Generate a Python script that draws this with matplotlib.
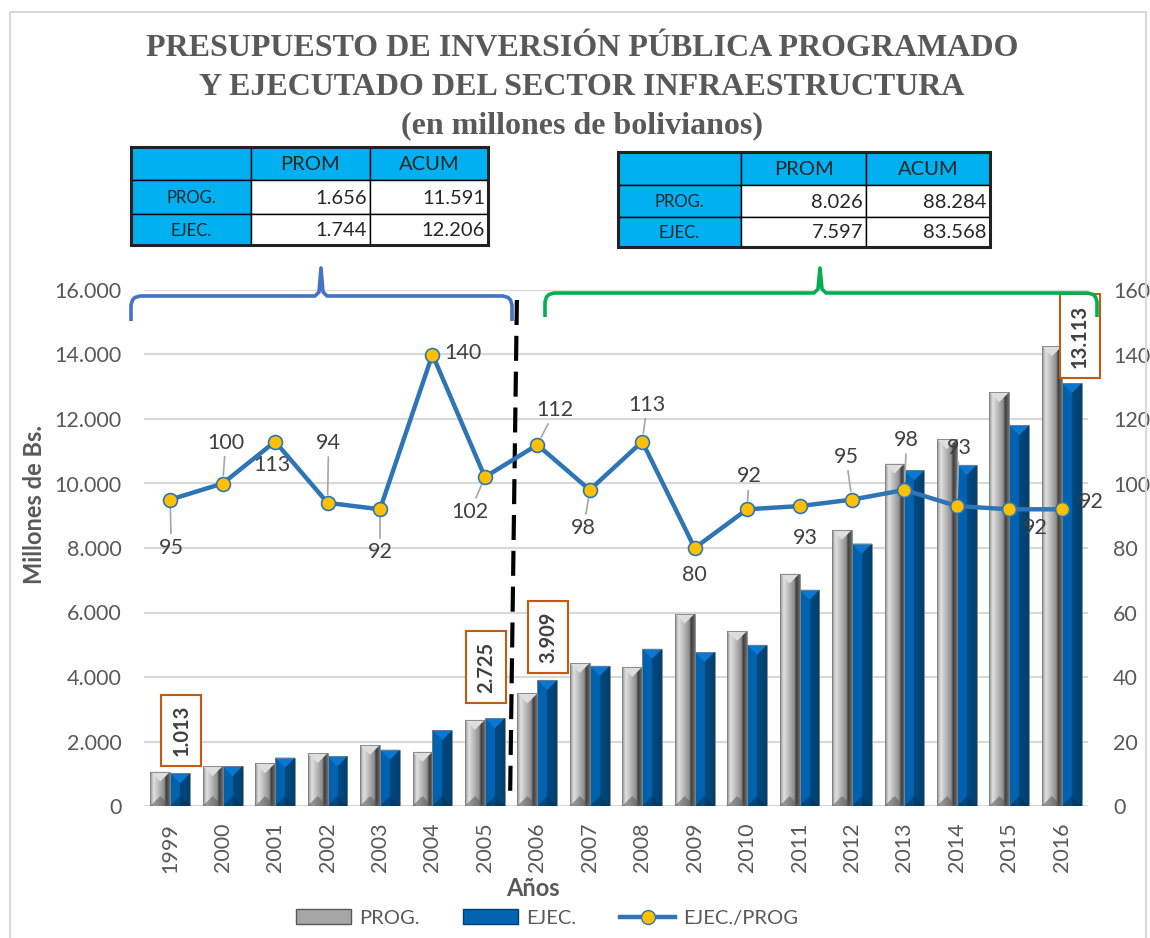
import numpy as np
import matplotlib
matplotlib.use('Agg')
import matplotlib.pyplot as plt
from matplotlib.patches import Rectangle, Polygon, Patch
from matplotlib.lines import Line2D
from matplotlib.colors import LinearSegmentedColormap
from matplotlib.ticker import FuncFormatter, MultipleLocator

plt.rcParams['font.family'] = ['Lato', 'DejaVu Sans']

W, H = 1150, 938
GREY_TXT = '#595959'

# data
years = [str(y) for y in range(1999, 2017)]
prog = [1066, 1235, 1327, 1638, 1897, 1682, 2672, 3490, 4435, 4313,
        5966, 5430, 7209, 8565, 10619, 11373, 12837, 14253]
ejec = [1013, 1235, 1500, 1540, 1745, 2355, 2725, 3909, 4346, 4874,
        4773, 4996, 6704, 8137, 10407, 10577, 11810, 13113]
ratio = [95, 100, 113, 94, 92, 140, 102, 112, 98, 113,
         80, 92, 93, 95, 98, 93, 92, 92]

# label offsets (pixels) for the ratio line, and which get a leader line
ratio_off = [(1, -48), (3, 41), (-3, -23), (1, 60), (0, -43), (30, 2), (-15, -35),
             (18, 35), (-6, -38), (5, 37), (0, -27), (2, 33), (6, -32), (-6, 43),
             (2, 50), (2, 58), (26, -19), (30, 7)]
ratio_leader = [1, 1, 0, 1, 1, 0, 1, 1, 1, 1, 0, 1, 0, 1, 1, 1, 0, 0]

# boxed value labels on EJEC bars: (index, offset)
boxed = [(0, (1, 43)), (6, (-9, 51)), (7, (1, 43)), (17, (8, 47))]

tbl_cols = ['PROM', 'ACUM']
tbl_rows = ['PROG.', 'EJEC.']
tbl_left = [['1.656', '11.591'], ['1.744', '12.206']]
tbl_right = [['8.026', '88.284'], ['7.597', '83.568']]


def fmt(v, pos=None):
    return f'{int(v):,}'.replace(',', '.')


fig = plt.figure(figsize=(W / 100, H / 100), dpi=100)
ax_l, ax_r, ax_t, ax_b = 144, 1088, 290, 806
ax = fig.add_axes([ax_l / W, 1 - ax_b / H, (ax_r - ax_l) / W, (ax_b - ax_t) / H])
ax2 = ax.twinx()

n = len(years)
x = np.arange(n)
bw = 0.38
ymax = 16000

# pixel scale to keep the bevel triangles square-ish
px_per_x = (ax_r - ax_l) / n
px_per_y = (ax_b - ax_t) / ymax
tri_h = 0.5 * bw * px_per_x / px_per_y

prog_cmap = LinearSegmentedColormap.from_list('prog', [
    (0, '#8c8c8c'), (0.18, '#e2e2e2'), (0.45, '#b8b8b8'), (0.72, '#8e8e8e'),
    (0.82, '#3c3c3c'), (1, '#6e6e6e')])
ejec_cmap = LinearSegmentedColormap.from_list('ejec', [
    (0, '#0062ad'), (0.48, '#0064b0'), (0.52, '#00487f'), (1, '#00416f')])
grad = np.linspace(0, 1, 64).reshape(1, -1)


def bevel_bars(xs, hs, cmap, top_col, bot_col):
    bars = ax.bar(xs, hs, bw, color='none', edgecolor='none', zorder=3)
    for rect in bars:
        x0 = rect.get_x()
        x1 = x0 + rect.get_width()
        h = rect.get_height()
        im = ax.imshow(grad, extent=(x0, x1, 0, h), aspect='auto', cmap=cmap,
                       interpolation='bilinear', zorder=3)
        im.set_clip_path(rect)
        xc = (x0 + x1) / 2
        ax.add_patch(Polygon([(x0, h), (x1, h), (xc, h - tri_h)], closed=True,
                             facecolor=top_col, edgecolor='none', zorder=4))
        ax.add_patch(Polygon([(x0, 0), (x1, 0), (xc, tri_h)], closed=True,
                             facecolor=bot_col, edgecolor='none', alpha=0.55, zorder=4))
        ax.add_patch(Rectangle((x0, 0), x1 - x0, h, facecolor='none',
                               edgecolor='#7f7f7f', lw=0.6, zorder=4))
    return bars


bevel_bars(x - bw / 2, prog, prog_cmap, '#dedede', '#5a5a5a')
bevel_bars(x + bw / 2, ejec, ejec_cmap, '#0a78d2', '#00325a')

ax.set_xlim(-0.5, n - 0.5)
ax.set_ylim(0, ymax)
ax.yaxis.set_major_locator(MultipleLocator(2000))
ax.yaxis.set_major_formatter(FuncFormatter(fmt))
ax.grid(axis='y', color='#d9d9d9', lw=1.6, zorder=0)
ax.set_axisbelow(True)
ax.set_xticks(x)
ax.set_xticklabels(years, rotation=90)
ax.tick_params(axis='x', length=0, pad=12, labelsize=15.5, labelcolor=GREY_TXT)
ax.tick_params(axis='y', length=0, pad=16, labelsize=15.5, labelcolor=GREY_TXT)
for s in ax.spines.values():
    s.set_visible(False)

# boxed value labels
for i, off in boxed:
    ax.annotate(fmt(ejec[i]), (x[i] + bw / 2, ejec[i]), xytext=off,
                textcoords='offset pixels', rotation=90, ha='center', va='center',
                fontsize=14.5, fontweight='bold', color='#404040', zorder=6,
                bbox=dict(boxstyle='square,pad=0.5', facecolor='white',
                          edgecolor='#c55a11', lw=1.5))

# ratio line
ax2.plot(x, ratio, color='#2e75b6', lw=3.2, marker='o', markersize=10,
         markerfacecolor='#ffc000', markeredgecolor='#2e75b6', markeredgewidth=1.2,
         zorder=5)
ax2.set_ylim(0, 160)
ax2.yaxis.set_major_locator(MultipleLocator(20))
ax2.tick_params(axis='y', length=0, pad=18, labelsize=15.5, labelcolor=GREY_TXT)
for s in ax2.spines.values():
    s.set_visible(False)

for i, v in enumerate(ratio):
    kw = {}
    if ratio_leader[i]:
        kw['arrowprops'] = dict(arrowstyle='-', color='#a6a6a6', lw=1.2,
                                shrinkA=1, shrinkB=6)
    ax2.annotate(str(v), (x[i], v), xytext=ratio_off[i], textcoords='offset pixels',
                 ha='center', va='center', fontsize=15.5, color='#404040', **kw)

# dashed separator between 2005 and 2006
ax.plot([6.61, 6.48], [15690, 190], color='black', lw=3, ls=(0, (6, 2.6)),
        clip_on=False, zorder=6)

# axis titles
fig.text(35 / W, 1 - 505 / H, 'Millones de Bs.', rotation=90, ha='center', va='center',
         fontsize=17, fontweight='bold', color=GREY_TXT)
fig.text(533 / W, 1 - 888 / H, 'Años', ha='center', va='center',
         fontsize=17, fontweight='bold', color=GREY_TXT)

# title
for txt, yy in [('PRESUPUESTO DE INVERSIÓN PÚBLICA PROGRAMADO', 48),
                ('Y EJECUTADO DEL SECTOR INFRAESTRUCTURA', 87),
                ('(en millones de bolivianos)', 126)]:
    fig.text(582 / W, 1 - yy / H, txt, ha='center', va='center', fontsize=23,
             fontweight='bold', family='Liberation Serif', color=GREY_TXT)

# overlay in pixel coordinates for tables, braces and frame
ov = fig.add_axes([0, 0, 1, 1], zorder=10)
ov.set_xlim(0, W)
ov.set_ylim(H, 0)
ov.axis('off')
ov.patch.set_alpha(0)
ov.add_patch(Rectangle((10, 12), W - 14, H - 8, facecolor='none',
                       edgecolor='#d9d9d9', lw=1.5))


def draw_table(xe, ye, data):
    cyan = '#00b0f0'
    for r in range(3):
        for c in range(3):
            fc = cyan if (r == 0 or c == 0) else 'white'
            ov.add_patch(Rectangle((xe[c], ye[r]), xe[c + 1] - xe[c], ye[r + 1] - ye[r],
                                   facecolor=fc, edgecolor='black', lw=1))
    ov.add_patch(Rectangle((xe[0], ye[0]), xe[-1] - xe[0], ye[-1] - ye[0],
                           facecolor='none', edgecolor='#222222', lw=2.2))
    for c, name in enumerate(tbl_cols):
        ov.text((xe[c + 1] + xe[c + 2]) / 2, (ye[0] + ye[1]) / 2 + 1, name,
                ha='center', va='center', fontsize=14.5, color='#262626')
    for r, name in enumerate(tbl_rows):
        yc = (ye[r + 1] + ye[r + 2]) / 2 + 1
        ov.text((xe[0] + xe[1]) / 2, yc, name, ha='center', va='center',
                fontsize=12, color='#262626')
        for c in range(2):
            ov.text(xe[c + 2] - 3, yc, data[r][c], ha='right', va='center',
                    fontsize=14.5, color='#262626')


draw_table([131, 251, 370, 488], [147, 180, 214, 245], tbl_left)
draw_table([618, 741, 866, 990], [152, 185, 217, 247], tbl_right)


def brace(x0, x1, xm, y_bar, y_end, y_tip, color):
    r = 9
    xs = [x0, x0, x0 + 1.5, x0 + 4, x0 + r, xm - 6, xm - 2, xm, xm + 2, xm + 6,
          x1 - r, x1 - 4, x1 - 1.5, x1, x1]
    ys = [y_end, y_bar + r, y_bar + 4, y_bar + 1.5, y_bar, y_bar, y_bar - 4, y_tip,
          y_bar - 4, y_bar, y_bar, y_bar + 1.5, y_bar + 4, y_bar + r, y_end]
    ov.plot(xs, ys, color=color, lw=2.6, solid_joinstyle='round', solid_capstyle='butt')


brace(131, 512, 321, 296, 321, 268, '#4472c4')
brace(545, 1097, 820, 293, 317, 268, '#00b050')

# legend
handles = [Patch(facecolor='#a6a6a6', edgecolor='#595959', label='PROG.'),
           Patch(facecolor='#0064b0', edgecolor='#00416f', label='EJEC.'),
           Line2D([], [], color='#2e75b6', lw=3.2, marker='o', markersize=10,
                  markerfacecolor='#ffc000', markeredgecolor='#2e75b6',
                  label='EJEC./PROG')]
fig.legend(handles=handles, loc='center', bbox_to_anchor=(547 / W, 1 - 918 / H),
           ncol=3, frameon=False, fontsize=14.5, labelcolor=GREY_TXT,
           handlelength=2.7, handleheight=0.7, columnspacing=2.2, handletextpad=0.4)

fig.savefig('out.png', dpi=100, facecolor='white')
